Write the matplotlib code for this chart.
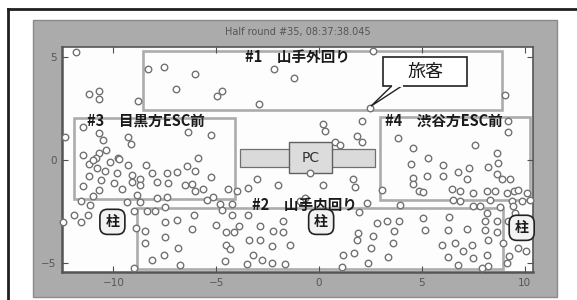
import numpy as np
import matplotlib.pyplot as plt
from matplotlib.patches import Rectangle, Polygon
from matplotlib.lines import Line2D

plt.rcParams['font.family'] = ['Noto Sans CJK JP', 'DejaVu Sans']

title = "Half round #35, 08:37:38.045"

# passenger positions (x, y)
north = [(-11.80, 5.24), (-8.30, 4.42), (-7.52, 4.51), (-6.94, 3.45), (-11.17, 3.20),
         (-10.68, 3.35), (-10.68, 2.96), (-8.79, 2.86), (-6.02, 4.17), (-2.18, 4.42),
         (-1.21, 3.98), (-4.71, 3.35), (-4.95, 3.11), (-2.91, 2.72), (2.62, 5.29),
         (2.48, 2.52), (9.03, 3.16)]
west = [(-11.50, 1.60), (-12.33, 1.12), (-10.68, 1.31), (-10.53, 0.97), (-9.27, 1.12),
        (-9.13, 0.78), (-11.50, 0.24), (-10.68, 0.34), (-10.34, 0.49), (-10.87, 0.10),
        (-9.76, 0.10), (-6.36, 1.36), (-5.24, 1.21), (-5.87, 0.10),
        (-11.17, -0.19), (-10.97, 0.00), (-10.15, -0.10), (-9.71, 0.05), (-9.27, -0.24),
        (-8.40, -0.24), (-7.38, -0.63), (-6.89, -0.58), (-11.21, -0.78), (-10.78, -0.39),
        (-10.39, -0.53), (-10.58, -0.97), (-9.81, -0.63), (-9.08, -0.73), (-8.69, -0.92),
        (-8.11, -0.63), (-11.50, -1.26), (-10.68, -1.46), (-9.95, -1.12), (-9.56, -1.41),
        (-9.08, -1.07), (-8.69, -1.21), (-7.86, -1.07), (-7.33, -1.12), (-10.97, -1.75),
        (-8.83, -1.70), (-11.60, -1.99), (-11.12, -2.18), (-9.32, -2.04), (-8.69, -2.04),
        (-7.86, -1.84), (-7.38, -1.80), (-11.94, -2.67), (-11.26, -2.67), (-11.60, -3.01),
        (-12.43, -3.01)]
centre = [(0.19, 1.75), (0.29, 1.41), (2.09, 1.89), (1.84, 1.17), (2.09, 0.87),
          (0.78, 0.87), (1.02, 0.73), (-6.41, -0.29), (-6.02, -0.53), (-5.24, -0.83),
          (-6.50, -1.21), (-6.17, -1.17), (-6.02, -1.50), (-5.63, -1.41), (-5.44, -1.94),
          (-5.15, -1.80), (-4.81, -2.14), (-4.42, -1.41), (-4.22, -2.14), (-3.98, -1.50),
          (-3.45, -1.36), (-3.01, -0.92), (-1.99, -1.21), (0.19, -1.21), (1.65, -0.92),
          (1.75, -1.31), (-0.92, -1.99), (-0.68, -1.84), (2.33, -2.09), (1.94, -2.52),
          (-0.44, -0.63)]
east = [(3.83, 1.07), (4.56, 0.58), (9.17, 1.89), (9.17, 1.36), (7.57, 0.73),
        (8.64, 0.34), (5.29, 0.10), (3.06, -1.46), (3.93, -2.18), (4.47, -0.19),
        (4.56, -0.87), (4.56, -1.17), (4.85, -1.50), (6.02, -0.24), (5.24, -0.78),
        (6.02, -0.78), (6.75, -0.58), (7.28, -0.39), (7.18, -0.92), (8.20, -0.34),
        (8.69, -0.15), (8.64, -0.68), (8.88, -0.92), (9.27, -0.92), (5.05, -1.55),
        (6.46, -1.41), (6.84, -1.50), (7.48, -1.60), (6.50, -1.94), (6.84, -1.99),
        (8.16, -1.50), (8.54, -1.50), (9.13, -1.60), (9.47, -1.50), (9.66, -1.46),
        (10.10, -1.60), (9.85, -1.99), (9.37, -1.99), (8.30, -1.94), (7.82, -2.23),
        (7.48, -2.23), (10.24, -1.94), (9.42, -2.23), (8.79, -2.28)]
south = [(-7.48, -2.28), (-8.35, -2.48), (-7.96, -2.48), (-8.98, -2.48), (-8.88, -3.30),
         (-8.45, -3.45), (-8.45, -4.03), (-7.48, -3.01), (-7.48, -3.74), (-6.89, -2.91),
         (-6.84, -4.27), (-7.52, -4.61), (-8.11, -4.85), (-8.98, -5.24),
         (-4.71, -2.43), (-4.22, -2.67), (-3.45, -2.67), (-6.07, -2.67), (-6.17, -3.35),
         (-5.00, -3.16), (-4.51, -3.50), (-4.13, -3.50), (-3.88, -3.20), (-2.86, -3.20),
         (-1.75, -2.96), (-2.23, -3.45), (-1.75, -3.50), (-3.40, -3.88), (-2.86, -3.88),
         (-1.41, -4.13), (-4.51, -4.13), (-4.32, -4.32), (-2.28, -4.17), (-3.20, -4.61),
         (-2.77, -4.85), (-3.50, -5.05), (-2.28, -5.00), (-1.65, -5.05), (-4.56, -4.90),
         (-6.75, -5.10), (2.82, -3.06), (3.30, -2.96), (3.88, -2.96), (3.64, -3.45),
         (1.89, -3.54), (1.84, -3.88), (2.62, -3.69), (3.59, -4.03), (2.52, -4.27),
         (1.70, -4.51), (1.17, -4.61), (3.35, -4.71), (2.38, -5.00), (1.12, -5.19),
         (8.16, -2.57), (9.51, -2.57), (9.17, -2.96), (6.31, -2.77), (5.05, -2.82),
         (5.15, -3.40), (6.26, -3.40), (7.18, -3.35), (8.06, -2.96), (8.64, -2.96),
         (8.06, -3.40), (8.64, -3.50), (8.20, -3.88), (5.97, -4.13), (6.60, -4.03),
         (7.43, -4.13), (6.99, -4.42), (6.26, -4.71), (7.48, -4.76), (8.16, -4.61),
         (8.93, -4.03), (9.22, -4.66), (9.66, -4.27), (10.05, -4.42), (9.13, -5.00),
         (8.20, -5.15), (6.75, -5.10), (7.91, -5.24)]

zone_names = ["#1　山手外回り", "#2　山手内回り", "#3　目黒方ESC前", "#4　渋谷方ESC前"]
zone_x0 = [-8.54, -8.83, -11.94, 2.96]
zone_x1 = [8.88, 8.93, -4.08, 10.24]
zone_y0 = [2.43, -5.29, -1.89, -1.94]
zone_y1 = [5.29, -2.33, 2.04, 2.09]
label_x = [-3.6, -3.25, -11.3, 3.2]
label_y = [5.0, -2.2, 1.93, 1.9]

pillar_x = [-10.05, 0.10, 9.85]
pillar_y = [-3.01, -3.01, -3.30]

pts = np.array(north + west + centre + east + south)

fig = plt.figure(figsize=(5.77, 3.0), dpi=100)
fig.patch.set_facecolor('white')

W, H = 577.0, 300.0
# scanned frame + grey figure panel
fig.add_artist(Rectangle((33 / W, 3 / H), 524 / W, 277 / H, transform=fig.transFigure,
                         fc='#ababab', ec='#8a8a8a', lw=1.0, zorder=-5))
fig.add_artist(Line2D([8 / W, 1.0], [1 - 9 / H, 1 - 9 / H], transform=fig.transFigure,
                      color='#202020', lw=2.0))
fig.add_artist(Line2D([8 / W, 8 / W], [0, 1 - 9 / H], transform=fig.transFigure,
                      color='#202020', lw=2.0))

ax = fig.add_axes([62 / W, 28 / H, 471 / W, 225 / H])
ax.set_facecolor('#fdfdfd')
ax.set_xlim(-12.5, 10.4)
ax.set_ylim(-5.45, 5.5)

# zones
for x0, x1, y0, y1 in zip(zone_x0, zone_x1, zone_y0, zone_y1):
    ax.add_patch(Rectangle((x0, y0), x1 - x0, y1 - y0, fill=False, ec='#acacac',
                           lw=1.9, zorder=1))

# PC desk
ax.add_patch(Rectangle((-3.83, -0.34), 6.55, 0.87, fc='#dadada', ec='#707070', lw=0.9, zorder=2))
ax.add_patch(Rectangle((-1.46, -0.63), 2.09, 1.50, fc='#dcdcdc', ec='#606060', lw=1.0, zorder=3))
ax.text(-0.41, 0.12, "PC", fontsize=10, color='#333333', ha='center', va='center',
        family=['DejaVu Sans'], zorder=4)

ax.scatter(pts[:, 0], pts[:, 1], s=22, facecolors='white', edgecolors='#727272',
           linewidths=1.0, zorder=5, clip_on=False)

for name, lx, ly in zip(zone_names, label_x, label_y):
    ax.text(lx, ly, name, fontsize=10.5, fontweight='bold', color='#1a1a1a',
            ha='left', va='center', zorder=6)

for px, py in zip(pillar_x, pillar_y):
    ax.text(px, py, "柱", fontsize=10, fontweight='bold', color='#1a1a1a', ha='center',
            va='center', zorder=7, clip_on=False,
            bbox=dict(boxstyle='round,pad=0.4,rounding_size=0.55', fc='#f2f2f2',
                      ec='#222222', lw=1.2))

# callout for one passenger
ax.add_patch(Polygon([(3.55, 3.62), (2.52, 2.62), (4.05, 3.62)], closed=True,
                     fc='white', ec='#222222', lw=1.0, zorder=8))
ax.add_patch(Rectangle((3.11, 3.59), 4.07, 1.41, fc='white', ec='#222222', lw=1.2, zorder=8))
ax.plot([3.58, 4.02], [3.59, 3.59], color='white', lw=1.4, zorder=9)
ax.text(5.15, 4.30, "旅客", fontsize=13, color='#1a1a1a', ha='center', va='center', zorder=10)

ax.text(0.5, 1.068, title, transform=ax.transAxes, ha='center', va='center',
        fontsize=7, color='#555555', family=['DejaVu Sans'])

ax.set_xticks([-10, -5, 0, 5, 10])
ax.set_yticks([-5, 0, 5])
ax.tick_params(direction='in', length=4, top=True, right=True, color='#505050',
               labelcolor='#555555', labelsize=7.5, pad=4)
for lab in ax.get_xticklabels() + ax.get_yticklabels():
    lab.set_family('DejaVu Sans')
for sp in ax.spines.values():
    sp.set_color('#555555')
    sp.set_linewidth(1.2)
ax.spines['bottom'].set_linewidth(1.8)
ax.spines['left'].set_linewidth(1.8)

fig.savefig('out.png', dpi=100)
